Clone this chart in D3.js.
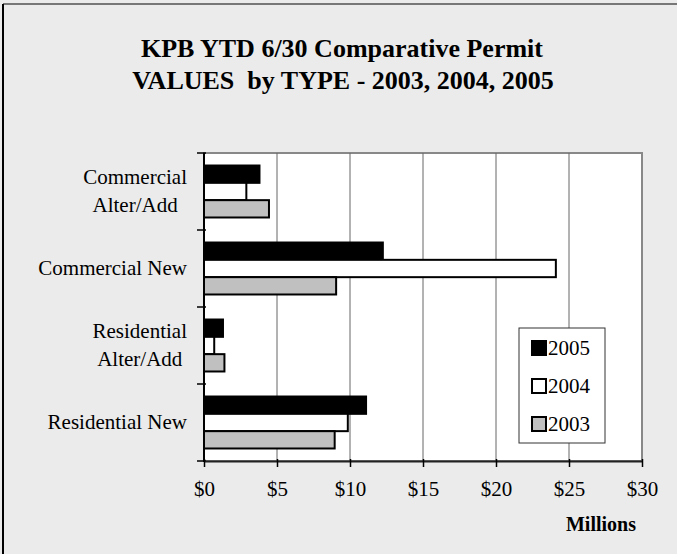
<!DOCTYPE html>
<html>
<head>
<meta charset="utf-8">
<script src="https://cdn.jsdelivr.net/npm/d3@7"></script>
<style>
  body { margin: 0; background: #fff; }
  svg { display: block; font-family: "Liberation Serif", "Times New Roman", serif; }
  .grid line { stroke: #666; stroke-width: 1; }
  .bar { stroke: #000; stroke-width: 2; }
</style>
</head>
<body>
<svg width="677" height="554"></svg>
<script>
var svg = d3.select("svg"),
    width = +svg.attr("width"),
    height = +svg.attr("height"),
    margin = { top: 153, bottom: 93, right: 35, left: 204 };

// categories, top to bottom
var categories = [
  ["Commercial", "Alter/Add"],
  ["Commercial New"],
  ["Residential", "Alter/Add"],
  ["Residential New"]
];
var years = ["2005", "2004", "2003"];
// values in millions of dollars, same order as categories
var v2005 = [3.8, 12.25, 1.3, 11.1];
var v2004 = [2.9, 24.1, 0.7, 9.85];
var v2003 = [4.45, 9.05, 1.4, 8.95];
var xTicks = [0, 5, 10, 15, 20, 25, 30];

var series = { "2005": v2005, "2004": v2004, "2003": v2003 };
var fills = { "2005": "#000", "2004": "#fff", "2003": "#c0c0c0" };

var catKeys = categories.map(function (d) { return d.join(" "); });

// background
svg.append("rect")
  .attr("width", width)
  .attr("height", height)
  .attr("fill", "#ebebeb");
svg.append("line")
  .attr("x1", 3).attr("x2", width).attr("y1", 4).attr("y2", 4)
  .attr("stroke", "#777").attr("stroke-width", 2);
svg.append("line")
  .attr("x1", 3).attr("x2", 3).attr("y1", 4).attr("y2", height)
  .attr("stroke", "#000").attr("stroke-width", 2);

// title
var title = svg.append("text")
  .attr("text-anchor", "middle")
  .style("font-weight", "bold")
  .style("font-size", "26px");
title.append("tspan").attr("x", 342).attr("y", 57).text("KPB YTD 6/30 Comparative Permit");
title.append("tspan").attr("x", 343).attr("y", 89).attr("xml:space", "preserve")
  .text("VALUES\u00a0 by TYPE - 2003, 2004, 2005");

var x = d3.scaleLinear()
  .domain([0, 30])
  .range([margin.left, width - margin.right]);

var y = d3.scaleBand()
  .domain(catKeys)
  .range([margin.top, height - margin.bottom])
  .paddingInner(0.325)
  .paddingOuter(0.1625);

var yInner = d3.scaleBand()
  .domain(years)
  .range([0, y.bandwidth()]);

var step = y.step(),
    y0 = margin.top,
    y1 = height - margin.bottom;

// plot area
svg.append("rect")
  .attr("x", x(0)).attr("y", y0)
  .attr("width", x(30) - x(0)).attr("height", y1 - y0)
  .attr("fill", "#fff")
  .attr("stroke", "#888").attr("stroke-width", 2);

svg.append("g")
  .attr("class", "grid")
  .selectAll("line")
  .data(xTicks.slice(1, -1))
  .enter().append("line")
    .attr("x1", function (d) { return x(d); })
    .attr("x2", function (d) { return x(d); })
    .attr("y1", y0).attr("y2", y1);

// bars
var groups = svg.append("g")
  .selectAll("g")
  .data(catKeys)
  .enter().append("g")
    .attr("transform", function (d) { return "translate(0," + y(d) + ")"; });

groups.selectAll("rect")
  .data(function (d, i) {
    return years.map(function (yr) { return { year: yr, value: series[yr][i] }; });
  })
  .enter().append("rect")
    .attr("class", "bar")
    .attr("x", x(0))
    .attr("y", function (d) { return yInner(d.year); })
    .attr("width", function (d) { return x(d.value) - x(0); })
    .attr("height", yInner.bandwidth())
    .attr("fill", function (d) { return fills[d.year]; });

// left axis
svg.append("line")
  .attr("x1", x(0)).attr("x2", x(0)).attr("y1", y0).attr("y2", y1 + 1)
  .attr("stroke", "#000").attr("stroke-width", 2);
svg.append("g")
  .selectAll("line")
  .data(d3.range(categories.length + 1))
  .enter().append("line")
    .attr("x1", x(0) - 7).attr("x2", x(0) + 2)
    .attr("y1", function (i) { return y0 + i * step; })
    .attr("y2", function (i) { return y0 + i * step; })
    .attr("stroke", "#000").attr("stroke-width", 1.5);

// category labels
var labels = svg.append("g")
  .style("font-size", "21px")
  .attr("fill", "#000");
categories.forEach(function (lines, i) {
  var cy = y(catKeys[i]) + y.bandwidth() / 2;
  if (lines.length === 1) {
    labels.append("text")
      .attr("x", 187).attr("y", cy + 6.5)
      .attr("text-anchor", "end")
      .text(lines[0]);
  } else {
    var g = labels.append("g");
    var t = g.selectAll("text").data(lines).enter().append("text")
      .attr("text-anchor", "middle")
      .attr("y", function (d, j) { return cy - 8 + j * 28; })
      .text(function (d) { return d; });
    var w = d3.max(t.nodes(), function (n) { return n.getComputedTextLength(); });
    t.attr("x", 187 - w / 2);
  }
});

// bottom axis
var xAxis = svg.append("g")
  .attr("transform", "translate(0," + y1 + ")")
  .call(d3.axisBottom(x)
    .tickValues(xTicks)
    .tickSizeInner(6)
    .tickSizeOuter(0)
    .tickPadding(14)
    .tickFormat(function (d) { return "$" + d; }));
xAxis.select(".domain").attr("stroke", "#222").attr("stroke-width", 2);
xAxis.selectAll(".tick line").attr("stroke", "#000").attr("stroke-width", 1.5)
  .attr("y1", -2);
xAxis.selectAll(".tick text")
  .style("font-family", "Liberation Serif, serif")
  .style("font-size", "21px")
  .attr("fill", "#000");

svg.append("text")
  .attr("x", 601).attr("y", 531)
  .attr("text-anchor", "middle")
  .style("font-weight", "bold")
  .style("font-size", "20px")
  .text("Millions");

// legend
var legend = svg.append("g").attr("transform", "translate(519,328)");
legend.append("rect")
  .attr("width", 86).attr("height", 115)
  .attr("fill", "#fff").attr("stroke", "#333").attr("stroke-width", 1);
var items = legend.selectAll(".item")
  .data(years)
  .enter().append("g")
    .attr("class", "item")
    .attr("transform", function (d, i) { return "translate(13," + (20 + i * 38) + ")"; });
items.append("rect")
  .attr("x", 0).attr("y", -7).attr("width", 14).attr("height", 14)
  .attr("fill", function (d) { return fills[d]; })
  .attr("stroke", "#000").attr("stroke-width", 2);
items.append("text")
  .attr("x", 16).attr("y", 7)
  .style("font-size", "21px")
  .text(function (d) { return d; });
</script>
</body>
</html>
